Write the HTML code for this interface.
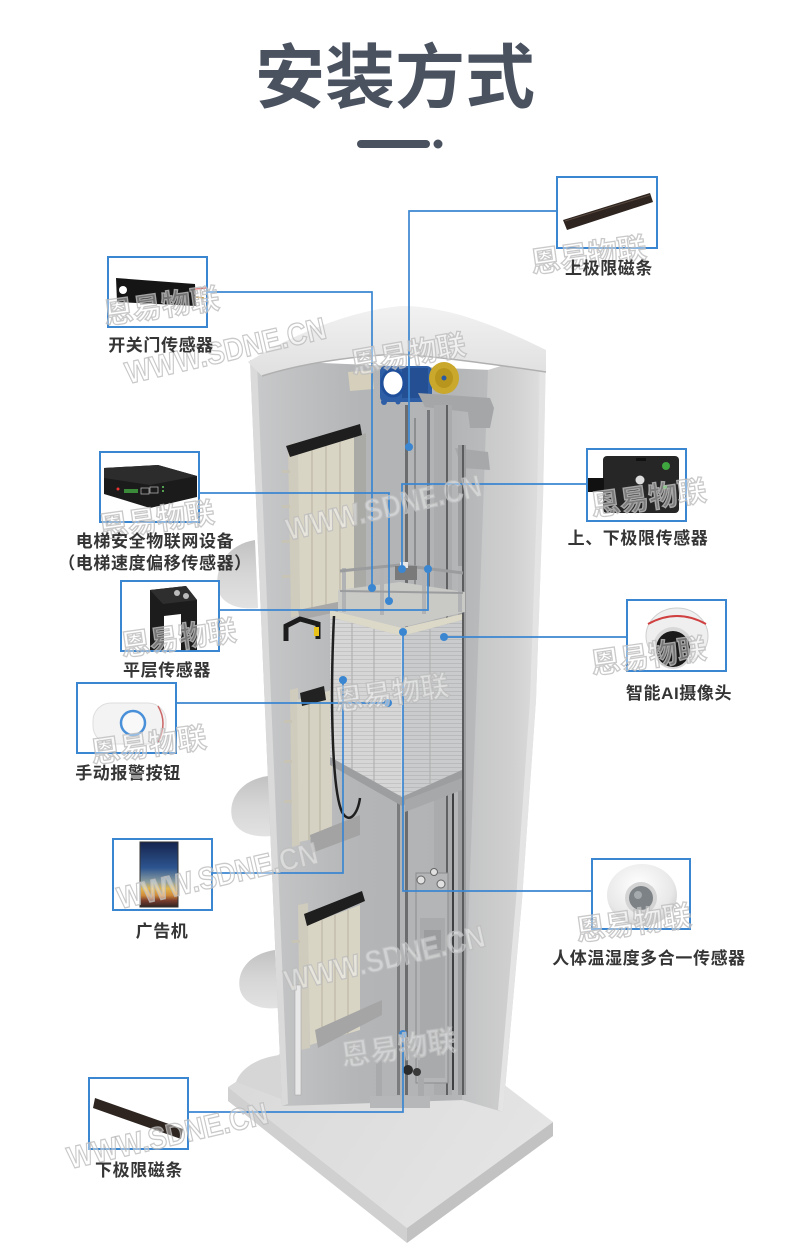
<!DOCTYPE html>
<html><head><meta charset="utf-8">
<style>
html,body{margin:0;padding:0;background:#fff;}
svg{display:block;}
.lb{font-family:"Liberation Sans","Noto Sans CJK SC",sans-serif;font-weight:bold;font-size:17px;fill:#353535;text-anchor:middle;letter-spacing:0.6px;}
.wm{font-family:"Liberation Sans","Noto Sans CJK SC",sans-serif;font-weight:bold;font-size:29px;fill:#ffffff;fill-opacity:.4;stroke:#bcbcbc;stroke-width:1.3;stroke-opacity:.8;text-anchor:middle;}
.ww{font-family:"Liberation Sans",sans-serif;font-weight:bold;font-size:31px;fill:#ffffff;fill-opacity:.4;stroke:#bcbcbc;stroke-width:1.3;stroke-opacity:.8;text-anchor:middle;}
</style></head><body>
<svg width="790" height="1254" viewBox="0 0 790 1254" xmlns="http://www.w3.org/2000/svg">
<defs>
<linearGradient id="gIn" x1="250" y1="0" x2="492" y2="0" gradientUnits="userSpaceOnUse">
<stop offset="0" stop-color="#d2d2d2"/><stop offset="0.04" stop-color="#c7c8c9"/><stop offset="0.2" stop-color="#bfc0c1"/><stop offset="0.45" stop-color="#b3b5b7"/><stop offset="0.8" stop-color="#b1b3b5"/><stop offset="1" stop-color="#bbbcbd"/>
</linearGradient>
<linearGradient id="gRW" x1="462" y1="0" x2="546" y2="0" gradientUnits="userSpaceOnUse">
<stop offset="0" stop-color="#c2c3c4"/><stop offset="0.6" stop-color="#d0d0d0"/><stop offset="0.9" stop-color="#dcdcdc"/><stop offset="1" stop-color="#e8e8e8"/>
</linearGradient>
<linearGradient id="gCap" x1="0" y1="305" x2="0" y2="375" gradientUnits="userSpaceOnUse">
<stop offset="0" stop-color="#f2f2f2"/><stop offset="1" stop-color="#e0e0e0"/>
</linearGradient>
<linearGradient id="gBase" x1="228" y1="1000" x2="553" y2="1228" gradientUnits="userSpaceOnUse">
<stop offset="0" stop-color="#d8d8d8"/><stop offset="1" stop-color="#e6e6e6"/>
</linearGradient>
<linearGradient id="gBul" x1="0" y1="0" x2="0" y2="1">
<stop offset="0" stop-color="#c2c2c2"/><stop offset="0.5" stop-color="#d6d6d6"/><stop offset="1" stop-color="#e2e2e2"/>
</linearGradient>
<pattern id="pCar" width="4" height="4" patternUnits="userSpaceOnUse">
<rect width="4" height="4" fill="#d6d6d6"/><rect y="3" width="4" height="1" fill="#c4c4c4"/>
</pattern>
<pattern id="pCarR" width="4" height="4" patternUnits="userSpaceOnUse">
<rect width="4" height="4" fill="#cacbcc"/><rect y="3" width="4" height="1" fill="#b9babb"/>
</pattern>
<linearGradient id="gAd" x1="0" y1="842" x2="0" y2="907" gradientUnits="userSpaceOnUse">
<stop offset="0" stop-color="#16244d"/><stop offset="0.4" stop-color="#2d5590"/><stop offset="0.62" stop-color="#8fa0a0"/><stop offset="0.72" stop-color="#e2b64a"/><stop offset="0.82" stop-color="#d08b3a"/><stop offset="0.9" stop-color="#7a3d2d"/><stop offset="1" stop-color="#2e2222"/>
</linearGradient>
<radialGradient id="gSph" cx="0.45" cy="0.35" r="0.7">
<stop offset="0" stop-color="#ffffff"/><stop offset="0.7" stop-color="#e8e8e8"/><stop offset="1" stop-color="#c8c8c8"/>
</radialGradient>
</defs>

<!-- Title -->
<text x="395" y="102" font-family="'Noto Sans CJK SC','WenQuanYi Zen Hei',sans-serif" font-weight="bold" font-size="70" fill="#4a5260" text-anchor="middle">安装方式</text>
<rect x="357" y="140" width="73" height="8" rx="4" fill="#4a5260"/>
<circle cx="438" cy="144" r="4.5" fill="#4a5260"/>

<!-- Base plate -->
<polygon points="228,1087 380,990 553,1122 407,1228" fill="url(#gBase)"/>
<polygon points="228,1087 407,1228 407,1243 228,1101" fill="#d0d0d0"/>
<polygon points="407,1228 553,1122 553,1136 407,1243" fill="#c2c2c2"/>

<!-- Left bulges (floor slabs) -->
<path d="M255,540 C225,545 214,570 218,590 C222,605 240,610 258,608 Z" fill="url(#gBul)"/>
<path d="M268,776 C240,780 228,800 232,818 C236,832 252,838 272,836 Z" fill="url(#gBul)"/>
<path d="M275,950 C248,954 236,972 240,990 C244,1004 260,1010 278,1008 Z" fill="url(#gBul)"/>
<path d="M280,1055 C255,1058 240,1070 236,1082 L284,1100 Z" fill="#d6d6d6"/>

<!-- Shaft interior + left wall -->
<polygon points="250,360 492,370 464,1100 282,1106" fill="url(#gIn)"/>
<polygon points="250,360 257,364 288,1104 282,1106" fill="#dadada"/>
<!-- Right wall -->
<polygon points="488,370 546,352 543,500 536,700 522,900 503,1112 462,1100" fill="url(#gRW)"/>
<polygon points="540,356 546,352 543,500 536,700 522,900 503,1112 498,1110 516,900 530,700 537,500" fill="#e4e4e4"/>

<!-- Top cap -->
<path d="M248,362 C290,336 350,310 402,306 C452,306 505,330 546,350 L546,372 C505,366 450,358 400,354 C350,356 300,364 262,376 Z" fill="url(#gCap)"/>
<path d="M262,376 C300,364 350,356 400,354 C450,358 505,366 546,372" stroke="#b0b0b0" stroke-width="1.5" fill="none"/>

<!-- Machine -->
<polygon points="348,372 372,370 374,389 350,391" fill="#d5cfbc"/>
<rect x="380" y="366" width="52" height="36" rx="5" fill="#2e5ea6"/>
<rect x="402" y="368" width="26" height="30" fill="#244f93"/>
<ellipse cx="393" cy="383" rx="11" ry="13" fill="#fff" stroke="#1f4f9a" stroke-width="3"/>
<circle cx="384" cy="402" r="3" fill="#2e5ea6"/>
<circle cx="398" cy="402" r="2.5" fill="#2e5ea6"/>
<ellipse cx="444" cy="378" rx="15" ry="16" fill="#c9a82c"/>
<ellipse cx="444" cy="378" rx="9" ry="10" fill="#b8961e"/>
<circle cx="444" cy="378" r="2.5" fill="#2a5aa0"/>
<polygon points="418,393 490,398 494,408 490,428 470,428 468,412 425,407" fill="#a4a6a8"/>
<polygon points="455,448 488,452 490,470 462,468" fill="#a6a8aa"/>

<!-- Rails -->
<rect x="405" y="405" width="3" height="690" fill="#6a6c6e"/>
<rect x="414" y="418" width="2" height="185" fill="#8c8e90"/>
<rect x="427" y="410" width="3" height="195" fill="#75777a"/>
<rect x="434" y="405" width="18" height="690" fill="#a9abad"/>
<rect x="446" y="405" width="2" height="690" fill="#5f6163"/>
<rect x="458" y="445" width="8" height="650" fill="#9c9ea0"/>
<rect x="462" y="445" width="2" height="650" fill="#5a5c5e"/>
<rect x="452" y="780" width="2" height="310" fill="#3e4042"/>
<rect x="397" y="800" width="3" height="295" fill="#7a7c7e"/>

<!-- Counterweight -->
<rect x="416" y="873" width="32" height="210" fill="#b3b5b7" stroke="#8a8c8e" stroke-width="1"/>
<rect x="420" y="918" width="25" height="160" fill="#a8aaac"/>
<rect x="424" y="930" width="17" height="20" fill="#9a9c9e"/>
<circle cx="421" cy="880" r="4" fill="#e0e0e0" stroke="#666" stroke-width="1"/>
<circle cx="441" cy="884" r="4" fill="#e0e0e0" stroke="#666" stroke-width="1"/>
<circle cx="434" cy="872" r="3.5" fill="#e0e0e0" stroke="#666" stroke-width="1"/>

<!-- Door 1 -->
<polygon points="288,445 298,442 300,615 291,618" fill="#cfcbbd"/>
<polygon points="298,452 354,437 354,600 300,612" fill="#d9d5c5"/>
<line x1="312" y1="450" x2="312" y2="609" stroke="#bcb7a5" stroke-width="1.2"/>
<line x1="326" y1="446" x2="326" y2="606" stroke="#bcb7a5" stroke-width="1.2"/>
<line x1="340" y1="442" x2="340" y2="603" stroke="#bcb7a5" stroke-width="1.2"/>
<polygon points="354,437 366,433 366,598 354,600" fill="#a9a9a5"/>
<polygon points="286,446 360,424 362,435 290,457" fill="#1e1e1e"/>
<rect x="282" y="470" width="8" height="3" fill="#c8c4b5"/>
<rect x="282" y="505" width="8" height="3" fill="#c8c4b5"/>
<rect x="282" y="540" width="8" height="3" fill="#c8c4b5"/>
<rect x="282" y="575" width="8" height="3" fill="#c8c4b5"/>
<polygon points="298,610 372,595 374,604 300,620" fill="#a8a8a8"/>

<!-- Door 2 -->
<polygon points="290,690 298,688 300,845 292,847" fill="#cfcbbd"/>
<polygon points="297,700 332,690 332,835 299,842" fill="#d6d2c3"/>
<line x1="309" y1="698" x2="309" y2="840" stroke="#bcb7a5" stroke-width="1.2"/>
<line x1="320" y1="695" x2="320" y2="838" stroke="#bcb7a5" stroke-width="1.2"/>
<polygon points="300,693 324,686 326,700 302,706" fill="#222"/>
<polygon points="310,835 360,815 360,835 312,853" fill="#a3a3a3"/>
<rect x="284" y="720" width="8" height="3" fill="#c8c4b5"/>
<rect x="284" y="760" width="8" height="3" fill="#c8c4b5"/>
<rect x="284" y="800" width="8" height="3" fill="#c8c4b5"/>

<!-- Door 3 -->
<polygon points="298,905 308,903 310,1048 300,1050" fill="#cfcbbd"/>
<polygon points="308,925 360,905 360,1030 310,1045" fill="#d9d5c5"/>
<line x1="322" y1="920" x2="322" y2="1042" stroke="#bcb7a5" stroke-width="1.2"/>
<line x1="335" y1="915" x2="335" y2="1038" stroke="#bcb7a5" stroke-width="1.2"/>
<line x1="348" y1="910" x2="348" y2="1034" stroke="#bcb7a5" stroke-width="1.2"/>
<polygon points="304,914 362,891 365,901 307,926" fill="#1e1e1e"/>
<polygon points="315,1030 382,1000 382,1015 318,1048" fill="#a5a5a5"/>
<rect x="292" y="940" width="8" height="3" fill="#c8c4b5"/>
<rect x="292" y="985" width="8" height="3" fill="#c8c4b5"/>
<rect x="295" y="985" width="6" height="110" fill="#e8e8e8" stroke="#a8a8a8" stroke-width="0.6"/>

<!-- Pit -->
<rect x="376" y="1060" width="6" height="45" fill="#a8aaac"/>
<rect x="418" y="1060" width="6" height="45" fill="#a8aaac"/>
<rect x="370" y="1096" width="60" height="12" fill="#b5b7b9"/>
<circle cx="408" cy="1070" r="5" fill="#2b2b2b"/>
<circle cx="417" cy="1072" r="4" fill="#3a3a3a"/>

<!-- Car top frame -->
<polygon points="338,590 400,582 465,592 465,612 400,628 338,612" fill="#c9c9c6"/>
<rect x="342" y="568" width="4" height="44" fill="#b0b2b4"/>
<rect x="380" y="565" width="4" height="50" fill="#b0b2b4"/>
<rect x="422" y="562" width="4" height="52" fill="#b0b2b4"/>
<rect x="458" y="566" width="4" height="46" fill="#b0b2b4"/>
<polyline points="340,571 400,565 463,573" stroke="#9a9c9e" stroke-width="3" fill="none"/>
<line x1="340" y1="591" x2="463" y2="593" stroke="#9a9c9e" stroke-width="2"/>
<rect x="395" y="566" width="22" height="14" fill="#7a7a7a"/>
<rect x="400" y="562" width="8" height="6" fill="#e8e8e8"/>

<!-- Car -->
<polygon points="330,617 402,636 402,797 330,757" fill="url(#pCar)"/>
<polygon points="402,636 462,620 462,770 402,797" fill="url(#pCarR)"/>
<polygon points="330,610 402,628 462,614 462,620 402,636 330,617" fill="#ddd9c8"/>
<line x1="352" y1="623" x2="352" y2="770" stroke="#b2b2b2" stroke-width="1.2"/>
<line x1="374" y1="629" x2="374" y2="782" stroke="#b2b2b2" stroke-width="1.2"/>
<line x1="430" y1="629" x2="430" y2="784" stroke="#b2b2b2" stroke-width="1.2"/>
<line x1="402" y1="636" x2="402" y2="797" stroke="#e6e6e6" stroke-width="1"/>
<polygon points="330,757 402,797 462,770 462,778 402,806 330,765" fill="#9c9ea0"/>
<polygon points="405,800 462,778 462,790 405,812" fill="#a6a8aa"/>
<path d="M334,616 C330,700 332,790 342,812 C350,826 358,812 360,798" stroke="#1f1f1f" stroke-width="2.5" fill="none"/>
<polyline points="286,641 286,626 300,619 318,624 318,639" stroke="#1c1c1c" stroke-width="5" fill="none"/>
<rect x="314" y="627" width="5" height="9" fill="#e8c21a"/>

<!-- Connectors -->
<g stroke="#3b86d1" stroke-width="1.7" fill="none">
<polyline points="557,211 409,211 409,447"/>
<polyline points="207,292 372,292 372,588"/>
<polyline points="199,493 389,493 389,601"/>
<polyline points="219,610 428,610 428,569"/>
<polyline points="587,484 402,484 402,569"/>
<polyline points="627,637 444,637"/>
<polyline points="176,703 388,703"/>
<polyline points="212,873 343,873 343,680"/>
<polyline points="592,891 403,891 403,632"/>
<polyline points="188,1112 403,1112 403,1034"/>
</g>
<g fill="#3b86d1">
<circle cx="409" cy="447" r="4"/>
<circle cx="372" cy="588" r="4"/>
<circle cx="389" cy="601" r="4"/>
<circle cx="428" cy="569" r="4"/>
<circle cx="402" cy="569" r="4"/>
<circle cx="444" cy="637" r="4"/>
<circle cx="388" cy="703" r="4"/>
<circle cx="343" cy="680" r="4"/>
<circle cx="403" cy="632" r="4"/>
<circle cx="403" cy="1034" r="4"/>
</g>

<!-- Boxes -->
<g fill="#fff" stroke="#3b86d1" stroke-width="2">
<rect x="557" y="177" width="100" height="71"/>
<rect x="108" y="257" width="99" height="70"/>
<rect x="100" y="452" width="99" height="70"/>
<rect x="121" y="581" width="98" height="70"/>
<rect x="587" y="449" width="99" height="72"/>
<rect x="627" y="600" width="99" height="71"/>
<rect x="77" y="683" width="99" height="70"/>
<rect x="113" y="839" width="99" height="71"/>
<rect x="592" y="859" width="98" height="70"/>
<rect x="89" y="1078" width="99" height="71"/>
</g>

<!-- Products -->
<polygon points="563,220 650,193 653,202 567,230" fill="#2e2520"/>
<line x1="565" y1="221" x2="650" y2="195" stroke="#5a4a40" stroke-width="1"/>

<polygon points="116,278 195,284 196,306 117,302" fill="#151515"/>
<circle cx="123" cy="290" r="4" fill="#fff"/>
<line x1="195" y1="289" x2="206" y2="288" stroke="#c33" stroke-width="1.5"/>
<line x1="196" y1="293" x2="206" y2="293" stroke="#eee" stroke-width="1.5"/>
<line x1="196" y1="297" x2="204" y2="298" stroke="#c8a050" stroke-width="1.5"/>

<polygon points="104,468 158,465 197,476 197,497 150,508 104,494" fill="#1b1b1b"/>
<polygon points="104,468 158,465 197,476 150,485 104,478" fill="#2c2c2c"/>
<rect x="124" y="489" width="14" height="4" fill="#3a8a3a"/>
<circle cx="118" cy="489" r="1.5" fill="#e33"/>
<rect x="141" y="488" width="8" height="6" fill="none" stroke="#aaa" stroke-width="0.8"/>
<rect x="150" y="487" width="8" height="6" fill="none" stroke="#aaa" stroke-width="0.8"/>
<circle cx="163" cy="487" r="1" fill="#6c6"/><circle cx="163" cy="491" r="1" fill="#6c6"/>

<polygon points="150,590 186,586 197,600 197,650 181,650 181,614 164,616 164,650 150,650" fill="#1c1c1c"/>
<polygon points="150,590 186,586 197,600 163,604" fill="#2e2e2e"/>
<circle cx="177" cy="593" r="3" fill="#bbb"/>
<circle cx="186" cy="596" r="3" fill="#bbb"/>

<rect x="603" y="456" width="76" height="57" rx="4" fill="#262626"/>
<rect x="588" y="478" width="16" height="14" fill="#111"/>
<circle cx="666" cy="466" r="4" fill="#3fa53f"/>
<circle cx="640" cy="480" r="4.5" fill="#ddd"/>
<circle cx="665" cy="487" r="2" fill="#3fa53f"/>
<rect x="636" y="458" width="10" height="3" fill="#111"/>

<ellipse cx="677" cy="636" rx="31" ry="28" fill="#efefef" stroke="#cfcfcf" stroke-width="1"/>
<path d="M648,624 Q677,608 706,624" stroke="#d04040" stroke-width="2" fill="none"/>
<ellipse cx="673" cy="648" rx="20" ry="21" fill="#d8d8d8"/>
<ellipse cx="673" cy="649" rx="17" ry="18" fill="#1a1a1a"/>

<rect x="93" y="703" width="73" height="41" rx="18" fill="#f3f3f3" stroke="#dedede" stroke-width="1"/>
<path d="M158,706 Q168,723 158,742" stroke="#c66" stroke-width="1.5" fill="none"/>
<circle cx="133" cy="723" r="12" fill="#f8f8f8" stroke="#4a90d9" stroke-width="2.5"/>

<rect x="140" y="842" width="38" height="65" fill="url(#gAd)" stroke="#333" stroke-width="1"/>

<ellipse cx="642" cy="895" rx="35" ry="31" fill="url(#gSph)"/>
<circle cx="641" cy="898" r="16" fill="#d4d4d4"/>
<circle cx="641" cy="898" r="12" fill="#7d8286"/>
<circle cx="638" cy="895" r="4" fill="#a5aaae"/>

<polygon points="95,1098 183,1129 181,1139 93,1108" fill="#2e2520"/>

<!-- Watermarks -->
<g>
<text class="wm" transform="translate(163,316) rotate(-8)">恩易物联</text>
<text class="ww" transform="translate(228,361) rotate(-13)" textLength="205" lengthAdjust="spacingAndGlyphs">WWW.SDNE.CN</text>
<text class="wm" transform="translate(410,364) rotate(-10)">恩易物联</text>
<text class="wm" transform="translate(590,265) rotate(-8)">恩易物联</text>
<text class="wm" transform="translate(158,530) rotate(-8)">恩易物联</text>
<text class="ww" transform="translate(386,518) rotate(-13)" textLength="200" lengthAdjust="spacingAndGlyphs">WWW.SDNE.CN</text>
<text class="wm" transform="translate(650,508) rotate(-8)">恩易物联</text>
<text class="wm" transform="translate(180,648) rotate(-8)">恩易物联</text>
<text class="wm" transform="translate(393,703) rotate(-8)">恩易物联</text>
<text class="wm" transform="translate(650,666) rotate(-8)">恩易物联</text>
<text class="wm" transform="translate(150,755) rotate(-8)">恩易物联</text>
<text class="ww" transform="translate(220,886) rotate(-13)" textLength="205" lengthAdjust="spacingAndGlyphs">WWW.SDNE.CN</text>
<text class="wm" transform="translate(635,933) rotate(-8)">恩易物联</text>
<text class="ww" transform="translate(387,969) rotate(-13)" textLength="205" lengthAdjust="spacingAndGlyphs">WWW.SDNE.CN</text>
<text class="wm" transform="translate(400,1058) rotate(-8)">恩易物联</text>
<text class="ww" transform="translate(170,1146) rotate(-13)" textLength="205" lengthAdjust="spacingAndGlyphs">WWW.SDNE.CN</text>
</g>

<!-- Labels -->
<text class="lb" x="609" y="274">上极限磁条</text>
<text class="lb" x="161" y="351">开关门传感器</text>
<text class="lb" x="155" y="547">电梯安全物联网设备</text>
<text class="lb" x="155" y="569">（电梯速度偏移传感器）</text>
<text class="lb" x="167" y="676">平层传感器</text>
<text class="lb" x="638" y="544">上、下极限传感器</text>
<text class="lb" x="679" y="699">智能AI摄像头</text>
<text class="lb" x="128" y="779">手动报警按钮</text>
<text class="lb" x="162" y="937">广告机</text>
<text class="lb" x="649" y="964">人体温湿度多合一传感器</text>
<text class="lb" x="139" y="1176">下极限磁条</text>
</svg>
</body></html>
